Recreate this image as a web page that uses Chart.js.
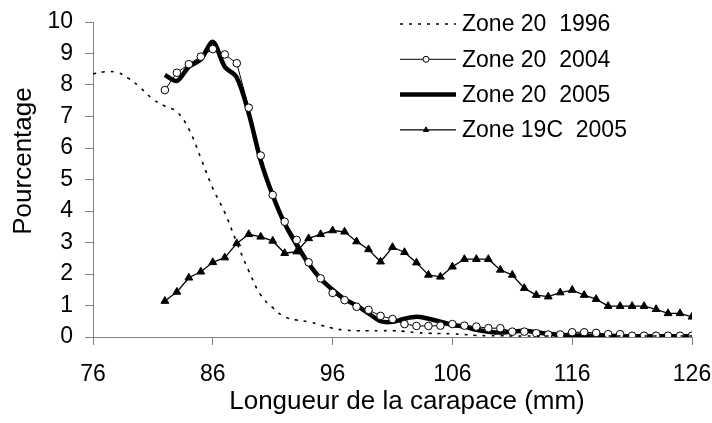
<!DOCTYPE html>
<html>
<head>
<meta charset="utf-8">
<script src="https://cdn.jsdelivr.net/npm/chart.js@4.4.1/dist/chart.umd.min.js"></script>
<style>
  html, body { margin: 0; padding: 0; background: #fff; }
  #wrap { width: 712px; height: 423px; }
</style>
</head>
<body>
<div id="wrap"><canvas id="chart"></canvas></div>
<script>
// Longueur de la carapace (mm)
const lengths = [76, 77, 78, 79, 80, 81, 82, 83, 84, 85, 86, 87, 88, 89, 90, 91, 92, 93, 94, 95,
    96, 97, 98, 99, 100, 101, 102, 103, 104, 105, 106, 107, 108, 109, 110, 111, 112, 113, 114, 115,
    116, 117, 118, 119, 120, 121, 122, 123, 124, 125, 126];
const xTicks = [76, 86, 96, 106, 116, 126];

// Zone 20 1996 (76..126)
const zone20_1996 = [8.35, 8.42, 8.40, 8.20, 7.90, 7.55, 7.33, 7.15, 6.60, 5.68, 4.72, 3.95, 3.00, 2.10, 1.33, 0.93, 0.64, 0.54, 0.48, 0.38,
    0.28, 0.22, 0.20, 0.20, 0.20, 0.20, 0.18, 0.14, 0.12, 0.11, 0.10, 0.08, 0.05, 0.04, 0.04, 0.03, 0.03, 0.03, 0.03, 0.03,
    0.03, 0.03, 0.03, 0.03, 0.03, 0.03, 0.03, 0.03, 0.03, 0.03, 0.03];

// Zone 20 2004 (82..126)
const zone20_2004 = [7.84, 8.39, 8.66, 8.90, 9.14, 8.97, 8.69, 7.28, 5.76, 4.51, 3.66, 3.08, 2.37, 1.86,
    1.40, 1.17, 0.96, 0.86, 0.67, 0.57, 0.41, 0.35, 0.35, 0.36, 0.41, 0.36, 0.33, 0.28, 0.28, 0.17,
    0.17, 0.12, 0.08, 0.08, 0.15, 0.15, 0.13, 0.09, 0.09, 0.04, 0.04, 0.04, 0.04, 0.04, 0.04];

// Zone 20 2005 (82..126)
const zone20_2005 = [8.32, 8.13, 8.58, 8.81, 9.37, 8.58, 8.24, 7.10, 5.60, 4.50, 3.60, 2.92, 2.33, 1.85,
    1.50, 1.20, 1.00, 0.75, 0.50, 0.48, 0.58, 0.64, 0.58, 0.49, 0.38, 0.33, 0.23, 0.17, 0.14, 0.17,
    0.20, 0.15, 0.10, 0.07, 0.05, 0.05, 0.04, 0.03, 0.02, 0.02, 0.02, 0.02, 0.02, 0.02, 0.02];

// Zone 19C 2005 (82..126)
const zone19C_2005 = [1.14, 1.43, 1.88, 2.07, 2.37, 2.52, 2.97, 3.26, 3.18, 3.05, 2.66, 2.71, 3.13, 3.26,
    3.38, 3.34, 3.03, 2.78, 2.39, 2.85, 2.69, 2.36, 1.97, 1.91, 2.23, 2.47, 2.47, 2.47, 2.13, 1.97,
    1.55, 1.33, 1.28, 1.41, 1.49, 1.33, 1.20, 0.98, 0.98, 0.98, 0.98, 0.88, 0.75, 0.75, 0.64];

const seriesNames = ['Zone 20  1996', 'Zone 20  2004', 'Zone 20  2005', 'Zone 19C  2005'];
const xTitle = 'Longueur de la carapace (mm)';
const yTitle = 'Pourcentage';

const FONT = '"Liberation Sans", Arial, sans-serif';
const AXIS_GREY = '#808080';

// pair values with lengths, series starting at the given length
function points(values, start) {
    const i0 = lengths.indexOf(start);
    return values.map((v, i) => ({ x: lengths[i0 + i], y: v }));
}

// legend inside the plot + axis titles (placed like the original, off-centre)
const overlay = {
    id: 'overlay',
    afterDraw(chart) {
        const ctx = chart.ctx;
        const x0 = 400, x1 = 456, xm = 426, top = 24, step = 35.3;
        ctx.save();
        chart.data.datasets.forEach((ds, i) => {
            const y = top + i * step;
            ctx.beginPath();
            ctx.setLineDash(ds.borderDash || []);
            ctx.lineWidth = ds.borderWidth;
            ctx.strokeStyle = ds.borderColor;
            ctx.moveTo(x0, y);
            ctx.lineTo(x1, y);
            ctx.stroke();
            ctx.setLineDash([]);
            if (ds.pointRadius > 0) {
                ctx.fillStyle = ds.pointBackgroundColor;
                ctx.strokeStyle = ds.pointBorderColor;
                ctx.lineWidth = 1;
                Chart.helpers.drawPoint(ctx, {
                    pointStyle: ds.pointStyle,
                    radius: ds.legendRadius,
                    borderWidth: 1
                }, xm, y);
            }
            ctx.fillStyle = '#000';
            ctx.font = '23px ' + FONT;
            ctx.textBaseline = 'middle';
            ctx.textAlign = 'left';
            ctx.fillText(ds.label, x1 + 6, y + 1);
        });

        ctx.fillStyle = '#000';
        ctx.font = '26px ' + FONT;
        ctx.textAlign = 'center';
        ctx.textBaseline = 'alphabetic';
        ctx.fillText(xTitle, 407, 409);

        ctx.translate(31, 161);
        ctx.rotate(-Math.PI / 2);
        ctx.fillText(yTitle, 0, 0);
        ctx.restore();
    }
};

new Chart(document.getElementById('chart'), {
    type: 'line',
    data: {
        datasets: [
            {
                label: seriesNames[0],
                data: points(zone20_1996, 76),
                borderColor: '#000',
                borderWidth: 1.6,
                borderDash: [3, 6],
                pointRadius: 0,
                tension: 0.4
            },
            {
                label: seriesNames[1],
                data: points(zone20_2004, 82),
                borderColor: '#000',
                borderWidth: 1,
                pointStyle: 'circle',
                pointRadius: 3.8,
                legendRadius: 3,
                pointBorderWidth: 1,
                pointBackgroundColor: '#fff',
                pointBorderColor: '#000',
                tension: 0
            },
            {
                label: seriesNames[2],
                data: points(zone20_2005, 82),
                borderColor: '#000',
                borderWidth: 4.5,
                pointRadius: 0,
                tension: 0.3
            },
            {
                label: seriesNames[3],
                data: points(zone19C_2005, 82),
                borderColor: '#000',
                borderWidth: 1.3,
                pointStyle: 'triangle',
                pointRadius: 4.5,
                legendRadius: 3,
                pointBorderWidth: 1,
                pointBackgroundColor: '#000',
                pointBorderColor: '#000',
                tension: 0
            }
        ]
    },
    options: {
        animation: false,
        responsive: true,
        maintainAspectRatio: false,
        layout: { padding: { left: 0, top: 22, right: 20, bottom: 0 } },
        plugins: {
            legend: { display: false },
            tooltip: { enabled: false }
        },
        scales: {
            x: {
                type: 'linear',
                min: 76,
                max: 126,
                afterFit: scale => { scale.height = 86; scale.paddingLeft = 0; scale.paddingRight = 0; },
                afterBuildTicks: scale => { scale.ticks = xTicks.map(v => ({ value: v })); },
                grid: { drawOnChartArea: false, drawTicks: true, tickLength: 8, color: AXIS_GREY },
                border: { color: AXIS_GREY, width: 1 },
                ticks: { color: '#000', font: { family: FONT, size: 23 }, padding: 16, maxRotation: 0, autoSkip: false }
            },
            y: {
                min: 0,
                max: 10,
                afterFit: scale => { scale.width = 93; scale.paddingTop = 0; scale.paddingBottom = 0; },
                grid: { drawOnChartArea: false, drawTicks: true, tickLength: 8, color: AXIS_GREY },
                border: { color: AXIS_GREY, width: 1 },
                ticks: { stepSize: 1, color: '#000', font: { family: FONT, size: 23 }, padding: 12 }
            }
        }
    },
    plugins: [overlay]
});
</script>
</body>
</html>
